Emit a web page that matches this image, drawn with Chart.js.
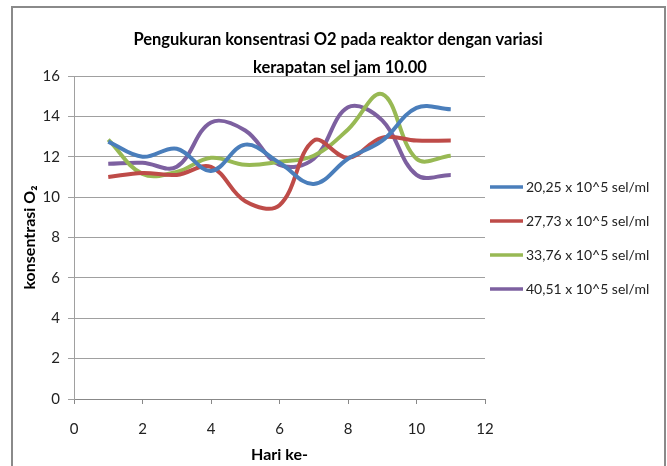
<!DOCTYPE html>
<html>
<head>
<meta charset="utf-8">
<script src="https://cdn.jsdelivr.net/npm/chart.js@4/dist/chart.umd.min.js"></script>
<style>
  html, body { margin: 0; padding: 0; background: #ffffff; }
  #wrap { width: 667px; height: 466px; position: relative; }
</style>
</head>
<body>
<div id="wrap"><canvas id="c" width="667" height="466"></canvas></div>
<script>
// ---- data ----
const days = [1, 2, 3, 4, 5, 6, 7, 8, 9, 10, 11];
const seriesLabels = [
  "20,25 x 10^5 sel/ml",
  "27,73 x 10^5 sel/ml",
  "33,76 x 10^5 sel/ml",
  "40,51 x 10^5 sel/ml"
];
const s2025 = [12.75, 12.0, 12.4, 11.3, 12.6, 11.7, 10.65, 11.9, 12.8, 14.42, 14.35];
const s2773 = [11.0, 11.2, 11.1, 11.5, 9.8, 9.6, 12.8, 11.95, 12.95, 12.8, 12.8];
const s3376 = [12.85, 11.15, 11.25, 11.95, 11.6, 11.75, 12.05, 13.35, 15.1, 11.9, 12.05];
const s4051 = [11.65, 11.7, 11.5, 13.7, 13.3, 11.6, 11.9, 14.45, 13.8, 11.1, 11.1];
const colors = ["#4A7EBB", "#BE4B48", "#98B954", "#7D60A0"];
const titleLines = ["Pengukuran konsentrasi O2 pada reaktor dengan variasi", "kerapatan sel jam 10.00"];
const xTitle = "Hari ke-";
const yTitle = "konsentrasi O\u2082";

const FONT = "Lato, 'Open Sans', 'Liberation Sans', sans-serif";

const allSeries = [s2025, s2773, s3376, s4051];
const datasets = allSeries.map((vals, i) => ({
  label: seriesLabels[i],
  data: days.map((d, j) => ({ x: d, y: vals[j] })),
  borderColor: colors[i],
  backgroundColor: colors[i],
  borderWidth: 4,
  pointRadius: 0,
  pointHoverRadius: 0,
  tension: 0.38,
  fill: false
}));

const decorPlugin = {
  id: 'decor',
  beforeDraw(chart) {
    const ctx = chart.ctx;
    ctx.save();
    ctx.strokeStyle = '#8a8a8a';
    ctx.lineWidth = 2;
    ctx.strokeRect(12, 7, 653, 470);
    ctx.restore();
  },
  afterDraw(chart) {
    const ctx = chart.ctx;
    ctx.save();
    // title
    ctx.fillStyle = '#000000';
    ctx.font = "bold 16.5px " + FONT;
    ctx.textAlign = 'center';
    ctx.textBaseline = 'alphabetic';
    ctx.fillText(titleLines[0], 338, 45);
    ctx.fillText(titleLines[1], 340, 73);
    // legend
    ctx.font = "14px " + FONT;
    ctx.textAlign = 'left';
    ctx.textBaseline = 'middle';
    chart.data.datasets.forEach((ds, i) => {
      const y = 187 + 34 * i;
      ctx.strokeStyle = ds.borderColor;
      ctx.lineWidth = 3.5;
      ctx.beginPath();
      ctx.moveTo(490, y);
      ctx.lineTo(523, y);
      ctx.stroke();
      ctx.fillStyle = '#222222';
      ctx.fillText(ds.label, 526, y);
    });
    ctx.restore();
  }
};

new Chart(document.getElementById('c'), {
  type: 'line',
  data: { datasets },
  plugins: [decorPlugin],
  options: {
    responsive: false,
    animation: false,
    events: [],
    layout: { padding: { left: 0, top: 76, right: 182, bottom: 0 } },
    plugins: {
      legend: { display: false },
      title: { display: false },
      tooltip: { enabled: false }
    },
    scales: {
      x: {
        type: 'linear',
        min: 0, max: 12,
        afterFit: s => { s.height = 67; },
        ticks: { stepSize: 2, color: '#222', padding: 16, font: { family: FONT, size: 15 } },
        grid: { display: true, drawOnChartArea: false, drawTicks: true, tickLength: 5, color: '#888' },
        border: { display: true, color: '#888', width: 1 },
        title: { display: true, text: xTitle, color: '#000', font: { family: FONT, size: 16, weight: 'bold' }, padding: { top: 0, bottom: 1.5 } }
      },
      y: {
        type: 'linear',
        min: 0, max: 16,
        afterFit: s => { s.width = 74; },
        ticks: { stepSize: 2, color: '#222', padding: 8, font: { family: FONT, size: 15 } },
        grid: { display: true, drawOnChartArea: true, drawTicks: true, tickLength: 6, color: '#a0a0a0' },
        border: { display: true, color: '#a0a0a0', width: 1 },
        title: { display: true, text: yTitle, color: '#000', font: { family: FONT, size: 16, weight: 'bold' }, padding: { top: 20, bottom: 0 } }
      }
    }
  }
});
</script>
</body>
</html>
